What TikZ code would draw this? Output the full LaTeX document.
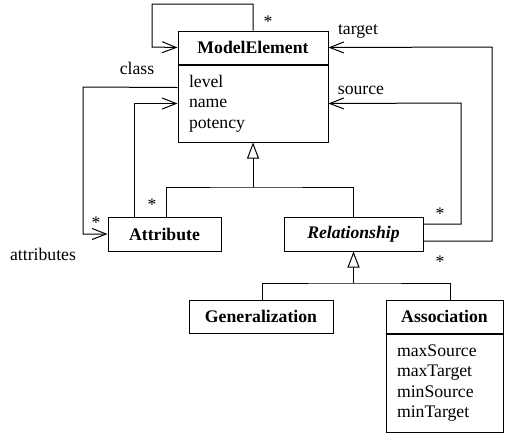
\documentclass[tikz,border=0pt]{standalone}
\usepackage{fontspec}
\setmainfont{Liberation Serif}
\usetikzlibrary{arrows.meta,calc}
\begin{document}
\begin{tikzpicture}[x=1pt,y=-1pt,line width=1pt,
  every node/.style={font=\fontsize{17.7}{20.5}\selectfont},
  cls/.style={draw,inner sep=0pt,minimum height=33pt},
  attrs/.style={draw,inner ysep=0pt,inner xsep=11pt,align=left},
  lbl/.style={inner sep=0pt},
  assoc/.style={-{Straight Barb[length=14pt,width=11pt]}},
  inherit/.style={-{Triangle[open,length=16pt,width=12pt]}}]
\useasboundingbox (0,0) rectangle (505,432);

% classes
\node[cls,minimum width=150pt] (me) at (253,47.5) {\textbf{ModelElement}};
\node[attrs,text width=128pt,minimum height=77pt,anchor=north] (meb) at (me.south) {level\\name\\potency};
\node[cls,minimum width=113pt,minimum height=34pt] (attr) at (164.5,234) {\textbf{Attribute}};
\node[cls,minimum width=139pt,minimum height=34pt] (rel) at (353.5,234) {\textbf{\textit{Relationship}}};
\node[cls,minimum width=144pt] (gen) at (261,316.5) {\textbf{Generalization}};
\node[cls,minimum width=117pt] (asc) at (444.5,316.5) {\textbf{Association}};
\node[attrs,text width=95pt,minimum height=98pt,anchor=north] (ascb) at (asc.south) {maxSource\\maxTarget\\minSource\\minTarget};

% class self-association
\coordinate (c1) at (253,4);
\coordinate (c2) at (152,47);
\draw[assoc] (me.north) -- (c1) -| (c2) -- (me.west);

% attributes
\coordinate (a1) at (83,87);
\draw[assoc] ($(meb.north west)+(0,23)$) -- (a1) |- (attr.west);
\coordinate (a2) at ($(attr.north west)+(27,0)$);
\draw[assoc] (a2) |- (meb.west);

% source and target
\coordinate (s1) at (461,103);
\draw[assoc] ($(rel.east)+(0,-10)$) -| (s1) -- (meb.east);
\coordinate (t1) at (492,47);
\draw[assoc] ($(rel.east)+(0,7)$) -| (t1) -- (me.east);

% generalizations
\coordinate (j1) at (253,187);
\draw[inherit] (j1) -- (meb.south);
\draw ($(attr.north)+(1.5,0)$) |- (j1) -| (rel.north);
\coordinate (j2) at (353.5,283);
\draw[inherit] (j2) -- (rel.south);
\draw ($(gen.north)+(1,0)$) |- (j2) -| ($(asc.north)+(5.5,0)$);

% role names and multiplicities
\node[lbl] (lclass) at (137,68) {class};
\node[lbl] (ltarget) at (358,31) {target};
\node[lbl] (lsource) at (361,90) {source};
\node[lbl] (lattrs) at (43,254) {attributes};
\node[lbl] (m1) at (268,22) {*};
\node[lbl] (m2) at (152,205) {*};
\node[lbl] (m3) at (96,223) {*};
\node[lbl] (m4) at (440,214) {*};
\node[lbl] (m5) at (440,262) {*};
\end{tikzpicture}
\end{document}
